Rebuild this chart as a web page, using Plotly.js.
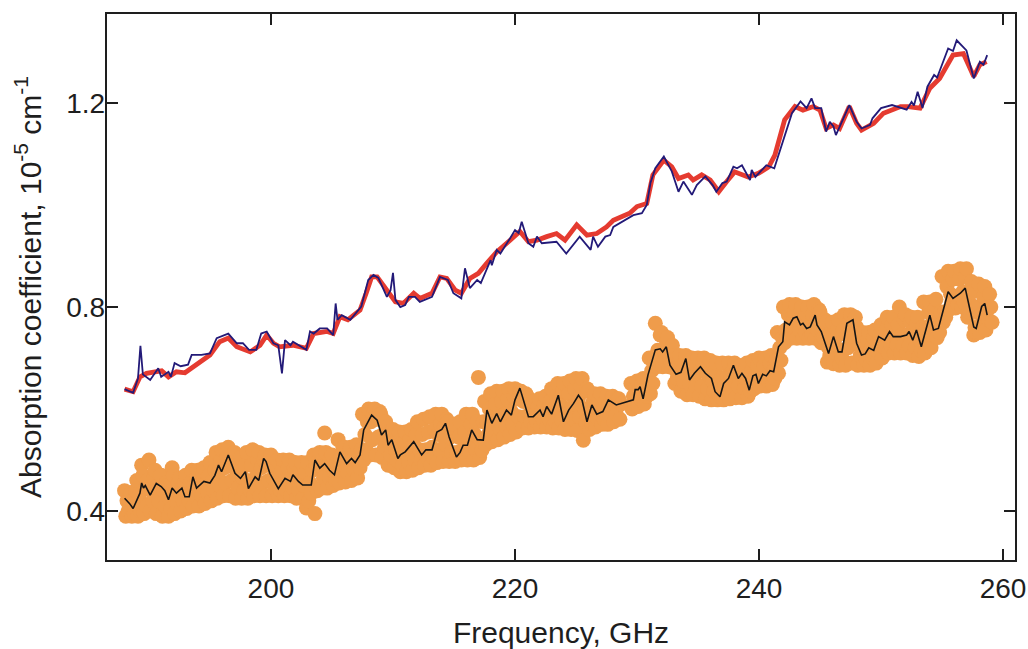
<!DOCTYPE html>
<html>
<head>
<meta charset="utf-8">
<script src="https://cdn.plot.ly/plotly-3.0.1.min.js"></script>
<style>
  html, body { margin: 0; padding: 0; background: #ffffff; }
  #chart { width: 1028px; height: 649px; }
</style>
</head>
<body>
<div id="chart"></div>
<script>
// Fitted absorption spectrum (thick red) and its model (thin navy), GHz vs 1e-5 cm^-1
const fitFreq = [188.0,188.7,189.26,189.8,190.5,191.04,191.6,192.25,192.95,193.6,194.3,195.0,195.8,196.5,197.2,197.8,198.3,199.1,199.65,200.2,200.7,201.8,202.9,203.5,204.6,205.1,205.65,206.3,207.3,207.8,208.25,208.7,209.5,210.2,210.85,211.7,212.2,213.2,213.85,214.4,215.1,215.6,216.3,217.0,217.7,218.5,219.6,220.4,221.1,221.8,222.6,223.4,224.1,225.06,225.9,226.7,227.5,228.06,229.4,230.0,230.8,231.3,232.2,232.85,233.4,234.2,234.6,235.3,236.0,236.7,237.35,238.0,239.1,239.95,240.8,241.3,242.1,242.95,243.6,244.45,245.0,245.5,246.1,246.6,247.4,248.0,248.4,249.4,250.2,251.6,252.2,253.2,254.0,254.8,255.9,256.75,257.6,258.1,258.65];
const fitAbs = [0.639,0.634,0.663,0.670,0.673,0.675,0.663,0.673,0.671,0.683,0.695,0.706,0.732,0.739,0.722,0.716,0.712,0.725,0.745,0.729,0.722,0.725,0.719,0.748,0.752,0.748,0.781,0.775,0.794,0.827,0.859,0.859,0.833,0.810,0.807,0.827,0.817,0.827,0.859,0.856,0.833,0.827,0.856,0.866,0.886,0.908,0.931,0.948,0.928,0.931,0.938,0.944,0.931,0.961,0.941,0.944,0.957,0.970,0.984,0.997,1.003,1.059,1.088,1.075,1.052,1.059,1.049,1.059,1.049,1.026,1.046,1.065,1.055,1.062,1.075,1.098,1.167,1.193,1.186,1.193,1.186,1.150,1.157,1.150,1.193,1.160,1.147,1.160,1.180,1.193,1.193,1.190,1.229,1.248,1.294,1.297,1.252,1.275,1.281];

const modelFreq = [188.0,188.7,189.1,189.3,189.5,190.1,190.76,191.0,191.6,191.8,192.1,192.6,193.2,193.5,194.3,195.0,195.55,196.5,197.2,197.7,198.2,198.8,199.2,199.65,200.2,200.6,200.9,201.15,201.6,201.8,202.9,203.2,203.5,204.0,204.6,205.1,205.3,205.45,205.8,206.5,207.4,207.97,208.4,208.8,209.5,209.8,210.0,210.2,210.6,211.0,211.3,211.8,212.2,213.2,213.85,214.5,214.95,215.6,215.9,216.3,216.9,217.2,218.0,218.1,218.5,218.8,219.6,220.0,220.3,220.55,221.1,221.5,221.8,222.2,223.4,224.2,225.3,225.6,226.2,226.4,226.8,227.4,227.8,228.06,229.7,230.4,230.8,231.1,231.5,232.2,232.85,233.4,233.8,234.5,234.9,235.6,236.2,236.5,237.0,237.35,237.9,238.2,238.6,239.26,239.4,239.7,240.6,241.25,242.7,243.4,243.9,244.3,244.6,245.1,245.5,245.8,246.1,246.3,247.4,248.0,248.4,249.1,249.3,250.0,250.9,252.1,252.5,252.7,253.0,253.4,253.8,254.35,254.6,255.5,255.9,256.2,257.0,257.6,258.1,258.4,258.7];
const modelAbs = [0.639,0.632,0.660,0.724,0.668,0.657,0.680,0.663,0.673,0.663,0.690,0.684,0.687,0.706,0.706,0.709,0.739,0.748,0.729,0.729,0.716,0.716,0.748,0.752,0.729,0.725,0.670,0.735,0.725,0.732,0.716,0.752,0.748,0.758,0.758,0.745,0.807,0.775,0.784,0.775,0.801,0.853,0.863,0.857,0.820,0.833,0.867,0.814,0.800,0.804,0.820,0.820,0.810,0.820,0.859,0.853,0.827,0.817,0.876,0.837,0.853,0.847,0.892,0.882,0.912,0.905,0.935,0.951,0.945,0.967,0.925,0.918,0.938,0.925,0.928,0.905,0.938,0.930,0.912,0.938,0.918,0.938,0.941,0.957,0.980,0.984,1.000,1.043,1.072,1.095,1.066,1.026,1.046,1.020,1.039,1.056,1.039,1.026,1.043,1.046,1.075,1.072,1.078,1.049,1.069,1.055,1.078,1.072,1.180,1.203,1.190,1.209,1.190,1.190,1.144,1.163,1.154,1.137,1.196,1.163,1.150,1.157,1.170,1.190,1.196,1.187,1.202,1.195,1.222,1.190,1.232,1.255,1.250,1.307,1.302,1.323,1.303,1.248,1.281,1.275,1.294];

// Smoothed trace through the measured points (thin black)
const meanFreq = [188.0,188.4,188.7,189.0,189.26,189.4,189.55,189.7,190.1,190.6,191.0,191.3,191.6,191.9,192.25,192.7,192.95,193.3,193.6,193.9,194.2,194.5,195.0,195.4,195.7,195.95,196.5,197.05,197.5,197.9,198.15,198.7,199.0,199.4,199.6,199.9,200.6,201.15,201.6,201.8,202.25,202.6,203.3,203.6,204.0,204.4,204.8,205.2,205.65,206.2,206.6,206.9,207.3,207.6,208.25,208.7,209.06,209.4,209.6,209.9,210.4,210.6,211.0,211.7,212.35,212.7,213.2,213.6,214.0,214.3,214.6,215.2,215.5,215.75,216.1,216.45,216.9,217.4,217.7,218.1,218.5,218.8,219.3,219.7,220.0,220.4,221.1,221.5,222.05,222.3,222.6,223.0,223.55,223.97,224.4,224.8,225.2,225.5,225.9,226.3,226.7,227.2,227.65,228.3,229.7,229.85,230.1,230.25,230.5,230.9,231.5,231.9,232.1,232.4,232.7,233.2,233.6,234.0,234.3,234.7,235.2,235.6,236.1,236.4,236.8,237.1,237.5,237.9,238.3,238.6,238.9,239.2,239.5,239.75,239.95,240.3,240.6,240.9,241.2,241.6,241.95,242.1,242.5,242.8,243.1,243.4,243.6,243.9,244.2,244.6,244.75,245.1,245.7,246.1,246.5,246.8,247.2,247.7,248.0,248.4,248.7,249.0,249.4,249.8,250.3,250.7,251.0,251.6,252.1,252.3,252.6,252.9,253.3,254.0,254.3,254.7,255.5,255.9,256.5,256.9,257.6,257.8,258.25,258.5,258.7];
const meanAbs = [0.425,0.415,0.405,0.420,0.435,0.455,0.445,0.450,0.431,0.454,0.448,0.440,0.422,0.445,0.435,0.445,0.428,0.428,0.467,0.445,0.451,0.458,0.455,0.470,0.490,0.477,0.510,0.474,0.464,0.477,0.444,0.467,0.460,0.503,0.497,0.474,0.444,0.464,0.458,0.471,0.458,0.451,0.451,0.500,0.484,0.493,0.480,0.471,0.516,0.493,0.503,0.495,0.510,0.559,0.588,0.578,0.549,0.559,0.529,0.540,0.503,0.510,0.516,0.536,0.510,0.520,0.520,0.555,0.560,0.572,0.545,0.506,0.515,0.529,0.529,0.559,0.540,0.539,0.598,0.572,0.591,0.575,0.598,0.588,0.618,0.641,0.585,0.585,0.598,0.585,0.605,0.590,0.627,0.575,0.598,0.611,0.627,0.617,0.575,0.608,0.590,0.595,0.618,0.608,0.618,0.638,0.638,0.644,0.620,0.667,0.716,0.718,0.712,0.722,0.686,0.668,0.672,0.699,0.657,0.670,0.683,0.670,0.660,0.634,0.624,0.650,0.660,0.686,0.660,0.670,0.660,0.637,0.665,0.668,0.650,0.668,0.665,0.675,0.673,0.722,0.732,0.771,0.765,0.778,0.781,0.765,0.768,0.758,0.761,0.784,0.765,0.752,0.709,0.742,0.712,0.712,0.768,0.775,0.729,0.706,0.708,0.720,0.715,0.742,0.735,0.752,0.742,0.742,0.745,0.752,0.735,0.755,0.722,0.784,0.755,0.758,0.830,0.817,0.827,0.837,0.761,0.758,0.801,0.807,0.784];

// Individual measured points (orange)
const dotFreq = [
188.0,188.1,188.2,188.3,188.4,188.5,188.6,188.7,188.8,188.9,
189.0,189.1,189.2,189.3,189.4,189.5,189.6,189.7,189.8,189.9,
190.0,190.1,190.2,190.3,190.4,190.5,190.6,190.7,190.8,190.9,
191.0,191.1,191.2,191.3,191.4,191.5,191.6,191.7,191.8,191.9,
192.0,192.1,192.2,192.3,192.4,192.5,192.6,192.7,192.8,192.9,
193.0,193.1,193.2,193.3,193.4,193.5,193.6,193.7,193.8,193.9,
194.0,194.1,194.2,194.3,194.4,194.5,194.6,194.7,194.8,194.9,
195.0,195.1,195.2,195.3,195.4,195.5,195.6,195.7,195.8,195.9,
196.0,196.1,196.2,196.3,196.4,196.5,196.6,196.7,196.8,196.9,
197.0,197.1,197.2,197.3,197.4,197.5,197.6,197.7,197.8,197.9,
198.0,198.1,198.2,198.3,198.4,198.5,198.6,198.7,198.8,198.9,
199.0,199.1,199.2,199.3,199.4,199.5,199.6,199.7,199.8,199.9,
200.0,200.1,200.2,200.3,200.4,200.5,200.6,200.7,200.8,200.9,
201.0,201.1,201.2,201.3,201.4,201.5,201.6,201.7,201.8,201.9,
202.0,202.1,202.2,202.3,202.4,202.5,202.6,202.7,202.8,202.9,
203.0,203.1,203.2,203.3,203.4,203.5,203.6,203.7,203.8,203.9,
204.0,204.1,204.2,204.3,204.4,204.5,204.6,204.7,204.8,204.9,
205.0,205.1,205.2,205.3,205.4,205.5,205.6,205.7,205.8,205.9,
206.0,206.1,206.2,206.3,206.4,206.5,206.6,206.7,206.8,206.9,
207.0,207.1,207.2,207.3,207.4,207.5,207.6,207.7,207.8,207.9,
208.0,208.1,208.2,208.3,208.4,208.5,208.6,208.7,208.8,208.9,
209.0,209.1,209.2,209.3,209.4,209.5,209.6,209.7,209.8,209.9,
210.0,210.1,210.2,210.3,210.4,210.5,210.6,210.7,210.8,210.9,
211.0,211.1,211.2,211.3,211.4,211.5,211.6,211.7,211.8,211.9,
212.0,212.1,212.2,212.3,212.4,212.5,212.6,212.7,212.8,212.9,
213.0,213.1,213.2,213.3,213.4,213.5,213.6,213.7,213.8,213.9,
214.0,214.1,214.2,214.3,214.4,214.5,214.6,214.7,214.8,214.9,
215.0,215.1,215.2,215.3,215.4,215.5,215.6,215.7,215.8,215.9,
216.0,216.1,216.2,216.3,216.4,216.5,216.6,216.7,216.8,216.9,
217.0,217.1,217.2,217.3,217.4,217.5,217.6,217.7,217.8,217.9,
218.0,218.1,218.2,218.3,218.4,218.5,218.6,218.7,218.8,218.9,
219.0,219.1,219.2,219.3,219.4,219.5,219.6,219.7,219.8,219.9,
220.0,220.1,220.2,220.3,220.4,220.5,220.6,220.7,220.8,220.9,
221.0,221.1,221.2,221.3,221.4,221.5,221.6,221.7,221.8,221.9,
222.0,222.1,222.2,222.3,222.4,222.5,222.6,222.7,222.8,222.9,
223.0,223.1,223.2,223.3,223.4,223.5,223.6,223.7,223.8,223.9,
224.0,224.1,224.2,224.3,224.4,224.5,224.6,224.7,224.8,224.9,
225.0,225.1,225.2,225.3,225.4,225.5,225.6,225.7,225.8,225.9,
226.0,226.1,226.2,226.3,226.4,226.5,226.6,226.7,226.8,226.9,
227.0,227.1,227.2,227.3,227.4,227.5,227.6,227.7,227.8,227.9,
228.0,228.1,228.2,228.3,228.4,228.5,228.6,228.7,
229.5,229.6,229.7,229.8,229.9,
230.0,230.1,230.2,230.3,230.4,230.5,230.6,230.7,230.8,230.9,
231.0,231.1,231.2,231.3,231.4,231.5,231.6,231.7,231.8,231.9,
232.0,232.1,232.2,232.3,232.4,232.5,232.6,232.7,232.8,232.9,
233.0,233.1,233.2,233.3,233.4,233.5,233.6,233.7,233.8,233.9,
234.0,234.1,234.2,234.3,234.4,234.5,234.6,234.7,234.8,234.9,
235.0,235.1,235.2,235.3,235.4,235.5,235.6,235.7,235.8,235.9,
236.0,236.1,236.2,236.3,236.4,236.5,236.6,236.7,236.8,236.9,
237.0,237.1,237.2,237.3,237.4,237.5,237.6,237.7,237.8,237.9,
238.0,238.1,238.2,238.3,238.4,238.5,238.6,238.7,238.8,238.9,
239.0,239.1,239.2,239.3,239.4,239.5,239.6,239.7,239.8,239.9,
240.0,240.1,240.2,240.3,240.4,240.5,240.6,240.7,240.8,240.9,
241.0,241.1,241.2,241.3,241.4,241.5,241.6,241.7,241.8,241.9,
242.0,242.1,242.2,242.3,242.4,242.5,242.6,242.7,242.8,242.9,
243.0,243.1,243.2,243.3,243.4,243.5,243.6,243.7,243.8,243.9,
244.0,244.1,244.2,244.3,244.4,244.5,244.6,244.7,244.8,244.9,
245.0,245.1,245.2,245.3,245.4,245.5,245.6,245.7,245.8,245.9,
246.0,246.1,246.2,246.3,246.4,246.5,246.6,246.7,246.8,246.9,
247.0,247.1,247.2,247.3,247.4,247.5,247.6,247.7,247.8,247.9,
248.0,248.1,248.2,248.3,248.4,248.5,248.6,248.7,248.8,248.9,
249.0,249.1,249.2,249.3,249.4,249.5,249.6,249.7,249.8,249.9,
250.0,250.1,250.2,250.3,250.4,250.5,250.6,250.7,250.8,250.9,
251.0,251.1,251.2,251.3,251.4,251.5,251.6,251.7,251.8,251.9,
252.0,252.1,252.2,252.3,252.4,252.5,252.6,252.7,252.8,252.9,
253.0,253.1,253.2,253.3,253.4,253.5,253.6,253.7,253.8,253.9,
254.0,254.1,254.2,254.3,254.4,254.5,254.6,254.7,254.8,254.9,
255.0,255.1,255.2,255.3,255.4,255.5,255.6,255.7,255.8,255.9,
256.0,256.1,256.2,256.3,256.4,256.5,256.6,256.7,256.8,256.9,
257.0,257.1,257.2,257.3,257.4,257.5,257.6,257.7,257.8,257.9,
258.0,258.1,258.2,258.3,258.4,258.5,258.6,258.7,258.8,258.9,
259.0,259.1
];
const dotAbs = [
.44,.39,.42,.40,.43,.435,.39,.415,.395,.44,
.46,.39,.43,.40,.49,.47,.395,.445,.41,.46,
.50,.40,.44,.42,.465,.48,.395,.45,.42,.47,
.47,.39,.44,.41,.455,.45,.39,.425,.405,.485,
.47,.395,.44,.415,.455,.465,.40,.445,.42,.455,
.47,.405,.435,.42,.455,.48,.41,.45,.43,.465,
.48,.41,.455,.43,.47,.485,.415,.455,.435,.47,
.495,.42,.46,.44,.48,.515,.425,.475,.45,.50,
.52,.43,.485,.455,.505,.525,.43,.49,.46,.51,
.515,.425,.47,.445,.495,.505,.425,.465,.44,.49,
.515,.425,.455,.44,.49,.52,.43,.465,.445,.50,
.515,.43,.485,.455,.50,.51,.43,.49,.46,.50,
.51,.43,.465,.445,.49,.50,.43,.45,.44,.48,
.50,.43,.46,.44,.485,.50,.43,.465,.445,.485,
.495,.425,.46,.44,.48,.495,.425,.45,.475,.406,
.495,.42,.455,.435,.48,.51,.395,.49,.44,.50,
.515,.445,.485,.465,.553,.515,.445,.49,.465,.505,
.51,.45,.475,.46,.495,.54,.455,.505,.475,.525,
.525,.457,.495,.475,.515,.525,.46,.50,.48,.515,
.53,.465,.505,.485,.52,.59,.50,.55,.52,.575,
.60,.51,.575,.54,.59,.60,.51,.58,.545,.595,
.59,.505,.55,.525,.575,.565,.49,.535,.51,.555,
.56,.485,.52,.50,.545,.555,.477,.51,.49,.535,
.555,.477,.52,.495,.54,.56,.48,.53,.50,.55,
.575,.485,.52,.50,.55,.58,.49,.52,.505,.555,
.585,.49,.525,.505,.56,.59,.495,.55,.52,.57,
.59,.497,.565,.53,.58,.575,.497,.545,.515,.56,
.57,.497,.515,.505,.545,.575,.50,.52,.51,.555,
.59,.50,.54,.515,.57,.59,.50,.55,.52,.575,
.662,.505,.54,.52,.575,.615,.53,.575,.55,.60,
.63,.536,.575,.555,.61,.635,.54,.585,.56,.615,
.635,.545,.59,.565,.62,.64,.55,.595,.57,.625,
.64,.555,.62,.585,.635,.635,.563,.615,.585,.63,
.625,.563,.59,.575,.61,.615,.565,.585,.575,.605,
.62,.565,.595,.58,.61,.625,.565,.60,.58,.615,
.64,.563,.60,.575,.625,.65,.563,.61,.58,.635,
.65,.56,.59,.575,.63,.655,.56,.605,.58,.64,
.66,.558,.62,.585,.645,.66,.539,.60,.575,.64,
.635,.56,.585,.57,.615,.63,.565,.60,.58,.62,
.63,.57,.595,.58,.615,.625,.57,.61,.585,.62,
.625,.575,.61,.59,.62,.62,.58,.61,
.65,.60,.625,.61,.64,
.655,.605,.64,.62,.65,.66,.61,.64,.625,.655,
.70,.63,.675,.65,.69,.768,.683,.715,.70,.745,
.75,.683,.715,.695,.735,.74,.683,.70,.69,.725,
.705,.65,.675,.66,.69,.705,.635,.675,.655,.69,
.705,.628,.68,.65,.695,.70,.628,.665,.645,.685,
.70,.625,.675,.645,.69,.70,.62,.67,.64,.685,
.695,.618,.655,.635,.675,.69,.618,.63,.625,.66,
.69,.618,.645,.63,.665,.69,.62,.665,.64,.68,
.69,.622,.675,.645,.685,.685,.622,.665,.64,.68,
.69,.625,.65,.635,.675,.695,.64,.665,.65,.685,
.70,.645,.66,.65,.685,.70,.645,.665,.655,.69,
.705,.648,.675,.66,.695,.75,.67,.72,.695,.74,
.80,.73,.755,.74,.785,.805,.739,.77,.75,.79,
.805,.739,.775,.755,.795,.80,.739,.765,.75,.785,
.80,.739,.76,.745,.785,.805,.739,.775,.755,.795,
.79,.73,.75,.74,.775,.77,.692,.72,.705,.75,
.77,.689,.735,.71,.755,.775,.686,.715,.70,.755,
.785,.686,.745,.72,.77,.785,.69,.77,.73,.78,
.76,.686,.725,.705,.745,.75,.686,.71,.695,.735,
.75,.686,.72,.70,.74,.755,.69,.73,.71,.745,
.765,.70,.74,.72,.755,.78,.71,.745,.725,.765,
.78,.71,.74,.725,.765,.80,.71,.745,.725,.775,
.785,.71,.745,.725,.77,.78,.705,.745,.72,.765,
.78,.703,.735,.715,.76,.81,.71,.76,.73,.79,
.81,.72,.77,.745,.795,.815,.74,.76,.75,.79,
.86,.77,.79,.78,.84,.87,.795,.825,.81,.855,
.87,.798,.82,.805,.855,.875,.80,.83,.81,.86,
.875,.78,.81,.79,.85,.83,.745,.76,.75,.80,
.845,.75,.785,.77,.82,.84,.755,.795,.775,.825,
.80,.77
];

const xTicks = [200, 220, 240, 260];
const yTicks = [0.4, 0.8, 1.2];

const FONT = 'Arial, "Liberation Sans", Helvetica, sans-serif';
const INK = '#1e1e1e';

const traces = [
  {
    x: dotFreq, y: dotAbs, type: 'scatter', mode: 'markers',
    marker: { color: '#ef9c4b', size: 15, line: { width: 0 } },
    hoverinfo: 'x+y'
  },
  {
    x: meanFreq, y: meanAbs, type: 'scatter', mode: 'lines',
    line: { color: '#151515', width: 1.6 }
  },
  {
    x: fitFreq, y: fitAbs, type: 'scatter', mode: 'lines',
    line: { color: '#e53b30', width: 4.8 }
  },
  {
    x: modelFreq, y: modelAbs, type: 'scatter', mode: 'lines',
    line: { color: '#231a78', width: 1.8 }
  }
];

const axisCommon = {
  showgrid: false, zeroline: false,
  showline: true, linecolor: INK, linewidth: 2.2, mirror: 'ticks',
  ticks: 'inside', ticklen: 11, tickwidth: 2, tickcolor: INK,
  tickfont: { family: FONT, size: 28, color: INK },
  tickmode: 'array'
};

const layout = {
  width: 1028, height: 649,
  margin: { l: 107, r: 13, t: 14, b: 89 },
  paper_bgcolor: '#ffffff', plot_bgcolor: '#ffffff',
  showlegend: false,
  xaxis: Object.assign({}, axisCommon, {
    range: [186.56, 260.98],
    tickvals: xTicks, ticktext: xTicks.map(String),
    ticklabelstandoff: 2,
    title: { text: 'Frequency, GHz', font: { family: FONT, size: 30, color: INK }, standoff: 22 }
  }),
  yaxis: Object.assign({}, axisCommon, {
    range: [0.304, 1.3745],
    tickvals: yTicks, ticktext: yTicks.map(v => v.toFixed(1)),
    ticklabelstandoff: -6,
    title: { text: 'Absorption coefficient, 10<sup>-5</sup> cm<sup>-1</sup>', font: { family: FONT, size: 30, color: INK }, standoff: 16 }
  })
};

Plotly.newPlot('chart', traces, layout, { displayModeBar: false, staticPlot: true });
</script>
</body>
</html>
